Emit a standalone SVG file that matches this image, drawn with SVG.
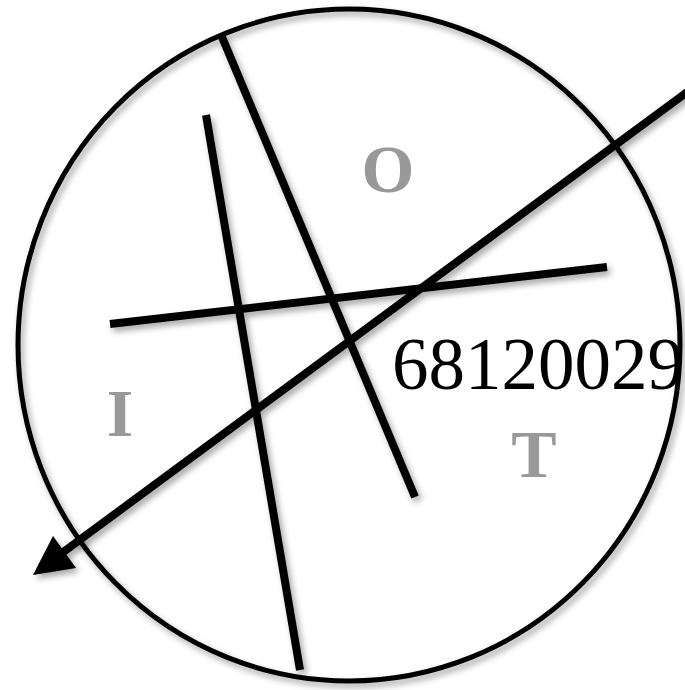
<svg xmlns="http://www.w3.org/2000/svg" width="685" height="690" viewBox="0 0 685 690">
  <style>
    .ln { stroke: #000; stroke-width: 8; fill: none; stroke-linecap: butt; }
    .ring { stroke: #000; stroke-width: 5; fill: none; }
    .big { font-family: "Liberation Serif", "Times New Roman", serif; font-weight: bold; font-size: 68px; fill: #999; text-anchor: middle; }
    .num { font-family: "Liberation Serif", "Times New Roman", serif; font-size: 73px; fill: #000; }
  </style>
  <defs>
    <filter id="sh" x="-10%" y="-10%" width="120%" height="120%">
      <feDropShadow dx="3" dy="4" stdDeviation="3" flood-color="#000" flood-opacity="0.35"/>
    </filter>
  </defs>
  <rect width="685" height="690" fill="#fff"/>
  <g id="ring" filter="url(#sh)">
    <ellipse class="ring" cx="349" cy="345" rx="331" ry="336"/>
  </g>
  <g id="connectors" filter="url(#sh)">
    <line class="ln" x1="222" y1="37" x2="415" y2="497"/>
    <line class="ln" x1="206" y1="115" x2="300" y2="670"/>
    <line class="ln" x1="110" y1="324" x2="607" y2="267"/>
    <line class="ln" x1="690" y1="90" x2="62" y2="553"/>
    <polygon points="33,575 53,536 76,568" fill="#000"/>
  </g>
  <g id="labels">
    <text class="big" x="388" y="192">O</text>
    <text class="big" x="120" y="436">I</text>
    <text class="big" x="534" y="477">T</text>
    <text class="num" x="392" y="389">68120029</text>
  </g>
</svg>
